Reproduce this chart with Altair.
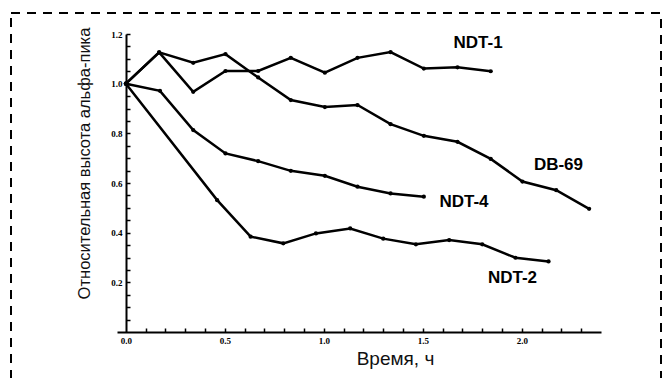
import altair as alt
import pandas as pd

# ---- data ----
ndt1_t = [0, 0.168, 0.34, 0.503, 0.668, 0.833, 1.005, 1.17, 1.337, 1.505, 1.675, 1.843]
ndt1_v = [1.0, 1.126, 0.967, 1.051, 1.051, 1.104, 1.044, 1.104, 1.127, 1.061, 1.066, 1.050]

db69_t = [0, 0.168, 0.34, 0.503, 0.668, 0.833, 1.005, 1.17, 1.337, 1.505, 1.675, 1.843, 2.003, 2.174, 2.34]
db69_v = [1.0, 1.126, 1.084, 1.119, 1.025, 0.934, 0.906, 0.914, 0.837, 0.790, 0.766, 0.697, 0.606, 0.571, 0.496]

ndt4_t = [0, 0.172, 0.34, 0.503, 0.668, 0.833, 1.005, 1.17, 1.337, 1.505]
ndt4_v = [1.0, 0.971, 0.813, 0.719, 0.688, 0.649, 0.629, 0.585, 0.558, 0.545]

ndt2_t = [0, 0.461, 0.63, 0.795, 0.96, 1.133, 1.30, 1.465, 1.633, 1.80, 1.968, 2.135]
ndt2_v = [1.0, 0.531, 0.384, 0.357, 0.397, 0.417, 0.376, 0.353, 0.370, 0.353, 0.299, 0.284]

label_names = ["NDT-1", "DB-69", "NDT-4", "NDT-2"]
label_t = [1.779, 2.185, 1.708, 1.953]
label_v = [1.164, 0.673, 0.524, 0.217]

x_label_values = [0.0, 0.5, 1.0, 1.5, 2.0]
y_label_values = [0.2, 0.4, 0.6, 0.8, 1.0, 1.2]
x_tick_values = [round(0.1 * i, 2) for i in range(1, 24)]
y_tick_values = [round(0.05 * i, 2) for i in range(1, 25)]

rows = []
for name, ts, vs in [("NDT-1", ndt1_t, ndt1_v), ("DB-69", db69_t, db69_v),
                     ("NDT-4", ndt4_t, ndt4_v), ("NDT-2", ndt2_t, ndt2_v)]:
    for t, v in zip(ts, vs):
        rows.append({"series": name, "t": t, "v": v})
df = pd.DataFrame(rows)
labels = pd.DataFrame({"name": label_names, "t": label_t, "v": label_v})

W, H = 484, 298
xscale = alt.Scale(domain=[-0.045, 2.4], nice=False, zero=False)
yscale = alt.Scale(domain=[0, 1.2], nice=False)

label_font = "Liberation Serif"
title_font = "Liberation Sans"

x_main = alt.X("t:Q", scale=xscale, axis=alt.Axis(
    orient="bottom", values=x_label_values, format=".1f", ticks=False, grid=False,
    domainColor="black", domainWidth=2, labelFont=label_font, labelFontWeight="bold",
    labelFontSize=9, labelColor="black", labelPadding=4, labelOverlap=False,
    labelFlush=False,
    title="Время, ч", titleFont=title_font, titleFontSize=19, titleFontWeight="normal",
    titleColor="#111", titleX=278, titleY=32, titleBaseline="alphabetic", titleAlign="center"))
y_main = alt.Y("v:Q", scale=yscale, axis=alt.Axis(
    orient="left", offset=-9, values=y_label_values, format=".1f", ticks=False, grid=False,
    domainColor="black", domainWidth=2, labelFont=label_font, labelFontWeight="bold",
    labelFontSize=9, labelColor="black", labelPadding=4, labelOverlap=False,
    labelFlush=False,
    title="Относительная высота альфа-пика", titleFont=title_font, titleFontSize=16.5,
    titleFontWeight="normal", titleColor="#111", titleAngle=270, titleX=-37, titleY=129,
    titleBaseline="alphabetic", titleAlign="center"))

lines = alt.Chart(df).mark_line(
    color="black", strokeWidth=2.5,
    point=alt.OverlayMarkDef(filled=True, color="black", size=18)
).encode(x=x_main, y=y_main, detail="series:N")

# inward-pointing tick marks via extra axes
ticks = alt.Chart(df).mark_point(opacity=0).encode(
    x=alt.X("t:Q", scale=xscale, axis=alt.Axis(
        orient="top", offset=-H, values=x_tick_values, labels=False, domain=False,
        ticks=True, tickSize=4, tickWidth=1.5, tickColor="black", grid=False, title=None)),
    y=alt.Y("v:Q", scale=yscale, axis=alt.Axis(
        orient="right", offset=-(W - 9), values=y_tick_values, labels=False, domain=False,
        ticks=True, tickSize=4, tickWidth=1.5, tickColor="black", grid=False, title=None)),
)

text = alt.Chart(labels).mark_text(
    font=title_font, fontSize=17, fontWeight="bold", color="black", align="center",
    baseline="middle"
).encode(x=alt.X("t:Q", scale=xscale, axis=None),
         y=alt.Y("v:Q", scale=yscale, axis=None), text="name:N")

border = alt.Chart(pd.DataFrame({"a": [0]})).mark_rect(
    fill="transparent", stroke="black", strokeWidth=2, strokeDash=[9, 7], clip=False
).encode(x=alt.value(-106), x2=alt.value(544), y=alt.value(-21), y2=alt.value(360))

chart = alt.layer(border, lines, ticks, text).resolve_axis(
    x="independent", y="independent"
).properties(
    width=W, height=H,
    autosize=alt.AutoSizeParams(type="none"),
    padding={"left": 109, "top": 26, "right": 61, "bottom": 46},
    background="white",
).configure_view(stroke=None)

chart.save("out.html", embed_options={"renderer": "svg", "actions": False})
